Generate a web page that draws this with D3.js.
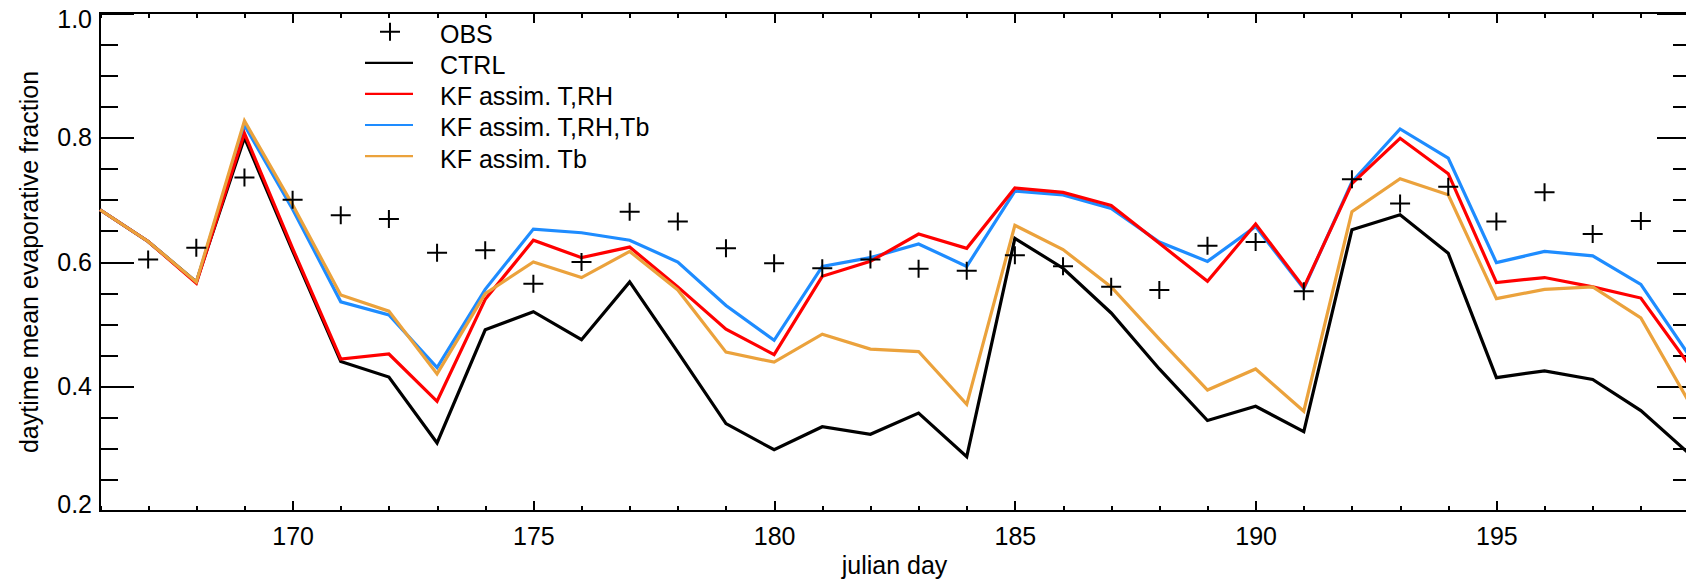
<!DOCTYPE html>
<html>
<head>
<meta charset="utf-8">
<script src="https://cdn.jsdelivr.net/npm/d3@7"></script>
<style>
  html, body { margin: 0; padding: 0; background: #fff; }
  svg { display: block; font-family: "Liberation Sans", Arial, sans-serif; }
</style>
</head>
<body>
<svg id="chart" width="1686" height="582"></svg>
<script>
// Values, one per julian day.
const days = [166, 167, 168, 169, 170, 171, 172, 173, 174, 175, 176, 177, 178, 179, 180, 181, 182,
  183, 184, 185, 186, 187, 188, 189, 190, 191, 192, 193, 194, 195, 196, 197, 198, 199];

const obs = [null, 0.604, 0.623, 0.736, 0.700, 0.675, 0.669, 0.615, 0.619, 0.565, 0.600, 0.681, 0.665,
  0.622, 0.598, 0.590, 0.604, 0.589, 0.586, 0.611, 0.593, 0.560, 0.555, 0.626, 0.632, 0.553, 0.733,
  0.694, 0.721, 0.665, 0.712, 0.645, 0.666, null];

const ctrl = [0.684, 0.633, 0.568, 0.800, 0.618, 0.440, 0.415, 0.309, 0.491, 0.520, 0.475, 0.568, 0.455,
  0.340, 0.298, 0.335, 0.323, 0.357, 0.287, 0.638, 0.590, 0.518, 0.428, 0.345, 0.368, 0.327, 0.652,
  0.676, 0.614, 0.414, 0.425, 0.411, 0.361, 0.292];

const kfTRH = [0.684, 0.633, 0.566, 0.807, 0.622, 0.444, 0.452, 0.376, 0.540, 0.635, 0.607, 0.624, 0.560,
  0.492, 0.451, 0.577, 0.601, 0.645, 0.622, 0.719, 0.712, 0.691, 0.630, 0.569, 0.661, 0.559, 0.726,
  0.799, 0.742, 0.567, 0.575, 0.560, 0.542, 0.435];

const kfTRHTb = [0.684, 0.633, 0.567, 0.820, 0.685, 0.536, 0.515, 0.430, 0.556, 0.653, 0.647, 0.635, 0.600,
  0.530, 0.474, 0.593, 0.607, 0.629, 0.593, 0.714, 0.708, 0.686, 0.632, 0.601, 0.657, 0.557, 0.729,
  0.814, 0.767, 0.599, 0.617, 0.610, 0.564, 0.450];

const kfTb = [0.684, 0.633, 0.568, 0.827, 0.692, 0.547, 0.521, 0.420, 0.549, 0.600, 0.575, 0.617, 0.555,
  0.455, 0.439, 0.484, 0.460, 0.456, 0.371, 0.659, 0.620, 0.560, 0.476, 0.394, 0.428, 0.360, 0.681,
  0.734, 0.708, 0.541, 0.556, 0.560, 0.510, 0.375];

const yMajor = [0.2, 0.4, 0.6, 0.8, 1.0];
const yMinor = [0.25, 0.3, 0.35, 0.45, 0.5, 0.55, 0.65, 0.7, 0.75, 0.85, 0.9, 0.95];
const xMajor = [170, 175, 180, 185, 190, 195];

const xTitle = "julian day";
const yTitle = "daytime mean evaporative fraction";
const obsName = "OBS";
const seriesNames = ["CTRL", "KF assim. T,RH", "KF assim. T,RH,Tb", "KF assim. Tb"];
const seriesColors = ["#000000", "#ff0000", "#1e8cff", "#eba23c"];

const series = [ctrl, kfTRH, kfTRHTb, kfTb].map((values, i) => ({
  name: seriesNames[i],
  color: seriesColors[i],
  points: values.map((v, j) => [days[j], v])
}));

const svg = d3.select("#chart");
const fontSize = 25;

const x = d3.scaleLinear().domain([166, 199]).range([100, 1689]);
const y = d3.scaleLinear().domain([0.2, 1.0]).range([510.7, 13.3]);

// Axes: ticks point inward on all four sides, minor ticks half length.
function addAxis(axis, transform) {
  const g = svg.append("g").attr("transform", transform).call(axis);
  g.select(".domain").remove();
  g.selectAll(".tick line").attr("stroke", "#000").attr("stroke-width", 2).attr("shape-rendering", "crispEdges");
  g.attr("font-family", null).attr("font-size", fontSize);
  g.selectAll("text").attr("fill", "#000");
  return g;
}

const noLabel = () => "";

addAxis(d3.axisBottom(x).tickValues(days).tickSizeInner(-5).tickSizeOuter(0).tickFormat(noLabel), "translate(0,510.7)");
addAxis(d3.axisBottom(x).tickValues(xMajor).tickSizeInner(-10).tickSizeOuter(0).tickPadding(17).tickFormat(d3.format("d")), "translate(0,510.7)");
addAxis(d3.axisTop(x).tickValues(days).tickSizeInner(-5).tickSizeOuter(0).tickFormat(noLabel), "translate(0,13.3)");
addAxis(d3.axisTop(x).tickValues(xMajor).tickSizeInner(-10).tickSizeOuter(0).tickFormat(noLabel), "translate(0,13.3)");

addAxis(d3.axisLeft(y).tickValues(yMinor).tickSizeInner(-18).tickSizeOuter(0).tickFormat(noLabel), "translate(100,0)");
const left = addAxis(d3.axisLeft(y).tickValues(yMajor).tickSizeInner(-34).tickSizeOuter(0).tickPadding(8).tickFormat(d3.format(".1f")), "translate(100,0)");
// end labels sit a bit inside the range, like the original
left.selectAll("text").attr("dy", d => d === 1.0 ? "0.56em" : d === 0.2 ? "0.08em" : "0.32em");
addAxis(d3.axisRight(y).tickValues(yMinor).tickSizeInner(-16).tickSizeOuter(0).tickFormat(noLabel), "translate(1689,0)");
addAxis(d3.axisRight(y).tickValues(yMajor).tickSizeInner(-32).tickSizeOuter(0).tickFormat(noLabel), "translate(1689,0)");

// Frame.
svg.append("rect")
  .attr("x", x(166)).attr("y", y(1.0))
  .attr("width", x(199) - x(166)).attr("height", y(0.2) - y(1.0))
  .attr("fill", "none").attr("stroke", "#000").attr("stroke-width", 2)
  .attr("shape-rendering", "crispEdges");

// Titles.
svg.append("text")
  .attr("x", (x(166) + x(199)) / 2).attr("y", 574)
  .attr("text-anchor", "middle").attr("font-size", fontSize).text(xTitle);

svg.append("text")
  .attr("transform", `translate(38,${(y(0.2) + y(1.0)) / 2}) rotate(-90)`)
  .attr("text-anchor", "middle").attr("font-size", fontSize).text(yTitle);

// Lines, drawn black, blue, red, orange so the overlaps look like the original.
const line = d3.line().x(d => x(d[0])).y(d => y(d[1]));
const drawOrder = [0, 2, 1, 3];
for (const i of drawOrder) {
  svg.append("path")
    .datum(series[i].points)
    .attr("d", line)
    .attr("fill", "none")
    .attr("stroke", series[i].color)
    .attr("stroke-width", 3.2)
    .attr("stroke-linejoin", "miter");
}

// Observations as plus signs.
const plus = "M-10,0H10M0,-9V9";
const obsPoints = obs.map((v, j) => [days[j], v]).filter(d => d[1] !== null);
svg.append("g").selectAll("path")
  .data(obsPoints)
  .join("path")
  .attr("transform", d => `translate(${x(d[0])},${y(d[1])})`)
  .attr("d", plus)
  .attr("stroke", "#000")
  .attr("stroke-width", 2)
  .attr("fill", "none");

// Legend.
const legend = svg.append("g").attr("transform", "translate(365,31.7)");
const rowH = 31.1;
legend.append("path").attr("transform", "translate(25,0)").attr("d", plus)
  .attr("stroke", "#000").attr("stroke-width", 2);
legend.append("text").attr("x", 75).attr("y", 11.5).attr("font-size", fontSize).text(obsName);
series.forEach((s, i) => {
  const ry = (i + 1) * rowH;
  legend.append("line")
    .attr("x1", 0).attr("x2", 48).attr("y1", ry).attr("y2", ry)
    .attr("stroke", s.color).attr("stroke-width", 2.2);
  legend.append("text").attr("x", 75).attr("y", ry + 11.5).attr("font-size", fontSize).text(s.name);
});
</script>
</body>
</html>
